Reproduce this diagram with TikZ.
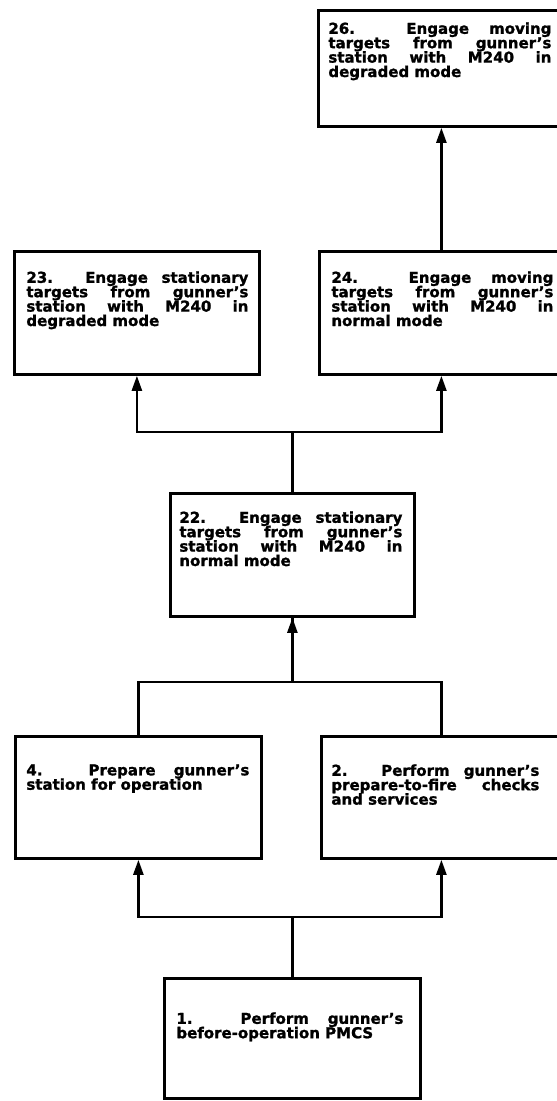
\documentclass[tikz,border=0pt]{standalone}
\usepackage{fontspec}
\setmainfont{DejaVu Sans}[BoldFeatures={FakeBold=1.3}]
\usetikzlibrary{arrows.meta}

% text block inside a task box: #1 box width, #2 box height,
% #3 space above the text, #4 left margin, #5 text width, #6 lines
\newcommand\taskbody[6]{%
  \parbox[b][#2][t]{#1}{\vspace*{#3}\hspace*{#4}\parbox[t]{#5}{\lineskiplimit=-20pt #6}}}
% a justified line
\newcommand\jl[1]{\makebox[\linewidth][s]{#1}}

\tikzset{
  task/.style={draw, line width=2.8pt, anchor=north west, inner sep=0pt,
    font=\bfseries\fontsize{15}{14.4}\selectfont},
  conn/.style={line width=2.4pt},
  arr/.style={conn, -{Triangle[length=15pt,width=10pt]}}
}

\begin{document}
\begin{tikzpicture}[x=1pt, y=-1pt]
  \useasboundingbox (0,0) rectangle (557,1101);
  \fill[white] (0,0) rectangle (557,1101);
  \clip (0,0) rectangle (557,1101);

  % top level
  \node[task] (b26) at (317,9) {\taskbody{246pt}{116pt}{12pt}{10pt}{223pt}{%
    \jl{26. Engage moving}\\ \jl{targets from gunner's}\\ \jl{station with M240 in}\\ degraded mode}};

  % degraded / moving targets
  \node[task] (b23) at (13,250) {\taskbody{245pt}{123pt}{20pt}{12pt}{222pt}{%
    \jl{23. Engage stationary}\\ \jl{targets from gunner's}\\ \jl{station with M240 in}\\ degraded mode}};
  \node[task] (b24) at (318,250) {\taskbody{244pt}{123pt}{20pt}{12pt}{222pt}{%
    \jl{24. Engage moving}\\ \jl{targets from gunner's}\\ \jl{station with M240 in}\\ normal mode}};

  % stationary targets, normal mode
  \node[task] (b22) at (169,492) {\taskbody{244pt}{123pt}{18pt}{9pt}{223pt}{%
    \jl{22. Engage stationary}\\ \jl{targets from gunner's}\\ \jl{station with M240 in}\\ normal mode}};

  % preparation
  \node[task] (b4) at (14,735) {\taskbody{246pt}{122pt}{28pt}{11pt}{223pt}{%
    \jl{4. Prepare gunner's}\\ station for operation}};
  \node[task] (b2) at (320,735) {\taskbody{240pt}{122pt}{28pt}{10pt}{208pt}{%
    \jl{2. Perform gunner's}\\ \jl{prepare-to-fire checks}\\ and services}};

  % PMCS
  \node[task] (b1) at (163,977) {\taskbody{256pt}{120pt}{34pt}{12pt}{227pt}{%
    \jl{1. Perform gunner's}\\ before-operation PMCS}};

  % connectors
  \draw[arr] (b1.north) -- ++(0,-60) -| (b4.south);
  \draw[arr] (b1.north) -- ++(0,-60) -| (b2.south);

  \draw[arr] (b4.north) -- ++(0,-53) -| (b22.south);
  \draw[conn] (b2.north) -- ++(0,-53) -| (b22.south);

  \draw[arr] (b22.north) -- ++(0,-60) -| (b23.south);
  \draw[arr] (b22.north) -- ++(0,-60) -| (b24.south);

  \draw[arr] (b24.north) -- (b26.south);
\end{tikzpicture}
\end{document}
